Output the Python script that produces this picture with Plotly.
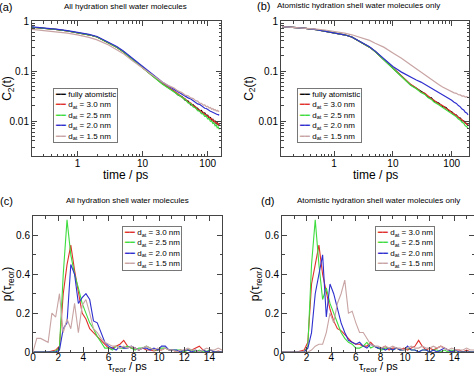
import plotly.graph_objects as go
import math

# ---------------- data ----------------
T_A = [0.2, 0.3, 0.5, 0.7, 1, 1.5, 2, 3, 4, 5, 7, 10, 14, 20, 25, 30, 35, 40, 45, 50,
       55, 60, 65, 70, 75, 80, 85, 90, 95, 100, 105, 110, 115, 120, 125, 130, 135, 140, 145, 150]
A_FULL = [0.75, 0.72, 0.67, 0.63, 0.59, 0.53, 0.48, 0.37, 0.30, 0.245, 0.17, 0.115, 0.080, 0.056, 0.046,
          0.040, 0.033, 0.031, 0.026, 0.025, 0.021, 0.021, 0.0185, 0.018, 0.0158, 0.0162, 0.0142, 0.0145,
          0.0128, 0.0130, 0.0115, 0.0118, 0.0104, 0.0108, 0.0096, 0.0099, 0.0088, 0.0092, 0.0083, 0.0086]
A_30 = [0.75, 0.72, 0.67, 0.63, 0.59, 0.53, 0.48, 0.37, 0.30, 0.245, 0.17, 0.116, 0.081, 0.057, 0.047,
        0.039, 0.035, 0.030, 0.028, 0.024, 0.023, 0.020, 0.0195, 0.017, 0.0168, 0.0152, 0.0150, 0.0136,
        0.0135, 0.0122, 0.0121, 0.0110, 0.0112, 0.0100, 0.0102, 0.0093, 0.0095, 0.0087, 0.0089, 0.0082]
A_25 = [0.75, 0.72, 0.67, 0.63, 0.59, 0.53, 0.48, 0.37, 0.30, 0.245, 0.17, 0.114, 0.079, 0.055, 0.045,
        0.038, 0.034, 0.029, 0.027, 0.023, 0.022, 0.019, 0.0182, 0.016, 0.0158, 0.0140, 0.0139, 0.0124,
        0.0125, 0.0110, 0.0111, 0.0099, 0.0100, 0.0089, 0.0091, 0.0080, 0.0083, 0.0073, 0.0076, 0.0068]
A_20 = [0.76, 0.73, 0.68, 0.64, 0.60, 0.54, 0.49, 0.38, 0.31, 0.255, 0.18, 0.121, 0.085, 0.060, 0.050,
        0.043, 0.039, 0.034, 0.032, 0.029, 0.0275, 0.025, 0.0238, 0.022, 0.0215, 0.020, 0.0193, 0.018,
        0.0178, 0.0168, 0.0165, 0.0157, 0.0153, 0.0148, 0.0146, 0.0140, 0.0139, 0.0135, 0.0134, 0.0130]
A_15 = [0.68, 0.65, 0.60, 0.57, 0.53, 0.47, 0.42, 0.33, 0.27, 0.225, 0.16, 0.115, 0.083, 0.060, 0.051,
        0.046, 0.040, 0.037, 0.033, 0.032, 0.029, 0.028, 0.0255, 0.025, 0.0228, 0.0226, 0.0208, 0.0210,
        0.0193, 0.0197, 0.0181, 0.0186, 0.0172, 0.0177, 0.0165, 0.0170, 0.0159, 0.0164, 0.0155, 0.0160]

T_B = [0.13, 0.2, 0.3, 0.5, 0.7, 1, 1.5, 2, 3, 4, 5, 7, 10, 14, 20, 25, 30, 35, 40, 45, 50,
       60, 70, 80, 90, 100, 110, 120, 130, 140, 150, 160, 170, 180, 190]
B_FULL = [0.77, 0.75, 0.72, 0.67, 0.63, 0.59, 0.53, 0.48, 0.37, 0.30, 0.245, 0.17, 0.115, 0.080, 0.053,
          0.045, 0.039, 0.035, 0.030, 0.029, 0.025, 0.0228, 0.0196, 0.0185, 0.0160, 0.0153, 0.0135,
          0.0131, 0.0117, 0.0115, 0.0102, 0.0101, 0.0091, 0.0089, 0.0082]
B_30 = [0.77, 0.75, 0.72, 0.67, 0.63, 0.59, 0.53, 0.48, 0.37, 0.30, 0.245, 0.17, 0.116, 0.081, 0.054,
        0.046, 0.038, 0.036, 0.031, 0.028, 0.026, 0.0220, 0.0203, 0.0178, 0.0166, 0.0148, 0.0140,
        0.0127, 0.0121, 0.0111, 0.0106, 0.0097, 0.0094, 0.0086, 0.0084]
B_25 = [0.77, 0.75, 0.72, 0.67, 0.63, 0.59, 0.53, 0.48, 0.37, 0.30, 0.245, 0.17, 0.114, 0.079, 0.052,
        0.044, 0.037, 0.034, 0.029, 0.027, 0.024, 0.0212, 0.0188, 0.0170, 0.0153, 0.0141, 0.0128,
        0.0121, 0.0109, 0.0104, 0.0094, 0.0090, 0.0080, 0.0078, 0.0070]
B_20 = [0.77, 0.75, 0.72, 0.67, 0.63, 0.59, 0.53, 0.48, 0.375, 0.305, 0.25, 0.18, 0.123, 0.095, 0.075,
        0.066, 0.060, 0.054, 0.050, 0.046, 0.043, 0.038, 0.034, 0.031, 0.028, 0.026, 0.0238, 0.0225,
        0.0203, 0.0192, 0.0173, 0.0166, 0.0150, 0.0145, 0.0133]
B_15 = [0.77, 0.75, 0.73, 0.69, 0.66, 0.62, 0.57, 0.53, 0.46, 0.41, 0.36, 0.30, 0.23, 0.18, 0.133,
        0.110, 0.095, 0.084, 0.075, 0.068, 0.062, 0.054, 0.048, 0.044, 0.041, 0.039, 0.0365, 0.0358,
        0.0335, 0.0333, 0.0316, 0.0318, 0.0302, 0.0306, 0.0295]

X_HIST = [0.0, 0.3, 0.6, 0.9, 1.2, 1.5, 1.8, 2.1, 2.4, 2.7, 3.0, 3.3, 3.6, 3.9, 4.2, 4.5, 4.8, 5.1,
          5.4, 5.7, 6.0, 6.3, 6.6, 6.9, 7.2, 7.5, 7.8, 8.1, 8.4, 8.7, 9.0, 9.3, 9.6, 9.9, 10.2, 10.5,
          10.8, 11.1, 11.4, 11.7, 12.0, 12.3, 12.6, 12.9, 13.2, 13.5, 13.8, 14.1, 14.4, 14.7, 15.0,
          15.3, 15.6]
C_30 = [0, 0, 0, 0, 0, 0.005, 0.01, 0.03, 0.30, 0.45, 0.55, 0.42, 0.30, 0.20, 0.17, 0.12, 0.10, 0.08,
        0.06, 0.04, 0.02, 0.02, 0.03, 0.04, 0.06, 0.03, 0.02, 0.02, 0.01, 0.02, 0.01, 0.01, 0.005, 0.01,
        0.01, 0.02, 0.01, 0.01, 0.0, 0.01, 0.005, 0.01, 0.01, 0.02, 0.03, 0.01, 0.0, 0.01, 0.0, 0.005,
        0.0, 0.0, 0.0]
C_25 = [0, 0, 0, 0, 0, 0, 0.005, 0.02, 0.40, 0.68, 0.50, 0.40, 0.33, 0.25, 0.20, 0.15, 0.12, 0.08,
        0.05, 0.02, 0.02, 0.01, 0.03, 0.02, 0.02, 0.03, 0.02, 0.01, 0.02, 0.02, 0.03, 0.02, 0.01, 0.01,
        0.02, 0.02, 0.01, 0.01, 0.01, 0.01, 0.0, 0.01, 0.01, 0.0, 0.01, 0.0, 0.005, 0.01, 0.0, 0.0,
        0.0, 0.0, 0.0]
C_20 = [0, 0, 0, 0, 0, 0, 0, 0.01, 0.12, 0.15, 0.45, 0.40, 0.25, 0.28, 0.30, 0.27, 0.16, 0.15, 0.10,
        0.05, 0.03, 0.02, 0.01, 0.03, 0.02, 0.02, 0.03, 0.02, 0.01, 0.02, 0.02, 0.01, 0.02, 0.01, 0.03,
        0.03, 0.01, 0.01, 0.01, 0.0, 0.01, 0.01, 0.0, 0.01, 0.0, 0.01, 0.0, 0.01, 0.0, 0.0, 0.0, 0.0, 0.0]
C_15 = [0.0, 0.07, 0.07, 0.06, 0.05, 0.20, 0.18, 0.30, 0.10, 0.17, 0.12, 0.25, 0.10, 0.24, 0.27, 0.20,
        0.12, 0.10, 0.07, 0.05, 0.04, 0.03, 0.03, 0.02, 0.03, 0.02, 0.03, 0.02, 0.01, 0.02, 0.03, 0.02,
        0.01, 0.02, 0.01, 0.02, 0.01, 0.01, 0.0, 0.01, 0.01, 0.02, 0.01, 0.01, 0.0, 0.01, 0.02, 0.01,
        0.01, 0.02, 0.01, 0.0, 0.0]
D_30 = [0, 0, 0, 0, 0, 0.005, 0.01, 0.05, 0.35, 0.45, 0.55, 0.40, 0.30, 0.22, 0.16, 0.12, 0.11, 0.09,
        0.07, 0.05, 0.04, 0.04, 0.03, 0.03, 0.05, 0.03, 0.02, 0.02, 0.03, 0.01, 0.02, 0.02, 0.01, 0.02,
        0.01, 0.02, 0.03, 0.06, 0.03, 0.01, 0.02, 0.01, 0.02, 0.03, 0.02, 0.01, 0.0, 0.01, 0.01, 0.0,
        0.01, 0.0, 0.0]
D_25 = [0, 0, 0, 0, 0, 0, 0.0, 0.03, 0.45, 0.68, 0.45, 0.27, 0.33, 0.25, 0.20, 0.15, 0.10, 0.07, 0.05,
        0.04, 0.02, 0.02, 0.03, 0.05, 0.02, 0.03, 0.02, 0.01, 0.02, 0.02, 0.01, 0.02, 0.01, 0.01, 0.02,
        0.01, 0.01, 0.0, 0.01, 0.01, 0.0, 0.01, 0.01, 0.0, 0.01, 0.0, 0.01, 0.0, 0.0, 0.0, 0.0, 0.0, 0.0]
D_20 = [0, 0, 0, 0, 0, 0, 0, 0.02, 0.10, 0.30, 0.40, 0.50, 0.18, 0.35, 0.30, 0.22, 0.15, 0.10, 0.06,
        0.05, 0.04, 0.05, 0.03, 0.02, 0.04, 0.03, 0.02, 0.02, 0.01, 0.02, 0.01, 0.02, 0.01, 0.01, 0.03,
        0.01, 0.01, 0.0, 0.01, 0.01, 0.0, 0.01, 0.0, 0.01, 0.02, 0.01, 0.0, 0.01, 0.0, 0.0, 0.0, 0.0, 0.0]
D_15 = [0, 0, 0, 0, 0, 0, 0, 0.0, 0.01, 0.03, 0.04, 0.04, 0.10, 0.20, 0.15, 0.25, 0.30, 0.37, 0.20,
        0.21, 0.15, 0.10, 0.10, 0.07, 0.04, 0.03, 0.03, 0.02, 0.03, 0.02, 0.03, 0.02, 0.02, 0.01, 0.02,
        0.03, 0.02, 0.02, 0.03, 0.02, 0.02, 0.03, 0.02, 0.03, 0.02, 0.01, 0.02, 0.01, 0.01, 0.01, 0.02,
        0.01, 0.01]

NAMES = ["fully atomistic", "d<sub>at</sub> = 3.0 nm", "d<sub>at</sub> = 2.5 nm",
         "d<sub>at</sub> = 2.0 nm", "d<sub>at</sub> = 1.5 nm"]
COLORS = ["#000000", "#e0312b", "#3fdc3f", "#2f2fcf", "#c9a4a4"]

TITLE_ALL = "All hydration shell water molecules"
TITLE_AT = "Atomistic hydration shell water molecules only"
XT_TIME = "time / ps"
XT_TAU = "τ<sub>reor</sub> / ps"

# ---------------- figure ----------------
FONT = "Liberation Sans, Arial, sans-serif"
fig = go.Figure()

panelA = [A_FULL, A_30, A_25, A_20, A_15]
panelB = [B_FULL, B_30, B_25, B_20, B_15]
for i, ys in enumerate(panelA):
    fig.add_trace(go.Scatter(x=T_A, y=ys, mode="lines", name=NAMES[i], showlegend=False,
                             line=dict(color=COLORS[i], width=1.2), xaxis="x", yaxis="y"))
for i, ys in enumerate(panelB):
    fig.add_trace(go.Scatter(x=T_B, y=ys, mode="lines", name=NAMES[i], showlegend=False,
                             line=dict(color=COLORS[i], width=1.2), xaxis="x2", yaxis="y2"))
for i, ys in enumerate([C_30, C_25, C_20, C_15]):
    fig.add_trace(go.Scatter(x=X_HIST, y=ys, mode="lines", name=NAMES[i + 1], showlegend=False,
                             line=dict(color=COLORS[i + 1], width=1.1), xaxis="x3", yaxis="y3"))
for i, ys in enumerate([D_30, D_25, D_20, D_15]):
    fig.add_trace(go.Scatter(x=X_HIST, y=ys, mode="lines", name=NAMES[i + 1], showlegend=False,
                             line=dict(color=COLORS[i + 1], width=1.1), xaxis="x4", yaxis="y4"))

AX = "#444444"
def base_axis(**kw):
    d = dict(showline=True, linecolor=AX, linewidth=1, mirror="allticks", ticks="inside",
             ticklen=5, tickcolor=AX, showgrid=False, zeroline=False, automargin=False,
             tickfont=dict(size=10, family=FONT, color="black"))
    d.update(kw)
    return d

def log_minor(lo, hi):
    vals = []
    for e in range(-3, 3):
        for k in range(2, 10):
            v = k * 10 ** e
            if lo <= v <= hi:
                vals.append(v)
    return vals

def minor(**kw):
    d = dict(ticks="inside", ticklen=2.5, tickcolor=AX, showgrid=False)
    d.update(kw)
    return d

xdomA = [32 / 474, 221 / 474]
xdomB = [281 / 474, 469 / 474]
ydomTop = [1 - 156 / 376, 1 - 21 / 376]
xdomC = [33 / 474, 222 / 474]
xdomD = [282 / 474, 474 / 474]
ydomBot = [1 - 352 / 376, 1 - 216 / 376]

title_font = dict(size=12, family=FONT, color="black")

fig.update_layout(
    width=474, height=376, margin=dict(l=0, r=0, t=0, b=0, autoexpand=False),
    paper_bgcolor="white", plot_bgcolor="white", showlegend=False,
    font=dict(family=FONT, color="black"),
    xaxis=base_axis(type="log", domain=xdomA, anchor="y", ticklabelstandoff=-2,
                    range=[math.log10(0.2), math.log10(160)],
                    tickvals=[1, 10, 100], ticktext=["1", "10", "100"],
                    minor=minor(tickvals=log_minor(0.2, 160))),
    yaxis=base_axis(type="log", domain=ydomTop, anchor="x", range=[-2.7, 0.0],
                    tickvals=[0.01, 0.1, 1], ticktext=["0.01", "0.1", "1"],
                    minor=minor(tickvals=log_minor(0.002, 1)),
                    title=dict(text="C<sub>2</sub>(t)", font=title_font, standoff=2)),
    xaxis2=base_axis(type="log", domain=xdomB, anchor="y2", ticklabelstandoff=-2,
                     range=[math.log10(0.125), math.log10(197)],
                     tickvals=[1, 10, 100], ticktext=["1", "10", "100"],
                     minor=minor(tickvals=log_minor(0.125, 197))),
    yaxis2=base_axis(type="log", domain=ydomTop, anchor="x2", range=[-2.7, 0.0],
                     tickvals=[0.01, 0.1, 1], ticktext=["0.01", "0.1", "1"],
                     minor=minor(tickvals=log_minor(0.002, 1)),
                     title=dict(text="C<sub>2</sub>(t)", font=title_font, standoff=2)),
    xaxis3=base_axis(domain=xdomC, anchor="y3", range=[0, 15], dtick=2, tick0=0,
                     ticklabelstandoff=-4, minor=minor(dtick=1)),
    yaxis3=base_axis(domain=ydomBot, anchor="x3", range=[0, 0.7],
                     tickvals=[0, 0.2, 0.4, 0.6], ticktext=["0", "0.2", "0.4", "0.6"],
                     minor=minor(dtick=0.1),
                     title=dict(text="p(τ<sub>reor</sub>)", font=title_font, standoff=2)),
    xaxis4=base_axis(domain=xdomD, anchor="y4", range=[0, 15.6], dtick=2, tick0=0,
                     ticklabelstandoff=-4, minor=minor(dtick=1)),
    yaxis4=base_axis(domain=ydomBot, anchor="x4", range=[0, 0.7],
                     tickvals=[0, 0.2, 0.4, 0.6], ticktext=["0", "0.2", "0.4", "0.6"],
                     minor=minor(dtick=0.1),
                     title=dict(text="p(τ<sub>reor</sub>)", font=title_font, standoff=2)),
)

ann = []
def label(text, xpx, ypx, size, anchor="center", yanchor="middle"):
    ann.append(dict(text=text, x=xpx / 474, y=1 - ypx / 376, xref="paper", yref="paper",
                    xanchor=anchor, yanchor=yanchor, showarrow=False,
                    font=dict(size=size, family=FONT, color="black")))

def legend_box(names, colors, xpx, ypx):
    lines = ["<span style='color:%s'>━━</span> %s" % (c, n) for n, c in zip(names, colors)]
    ann.append(dict(text="<br>".join(lines), x=xpx / 474, y=1 - ypx / 376,
                    xref="paper", yref="paper", xanchor="left", yanchor="top",
                    align="left", showarrow=False, bgcolor="white",
                    bordercolor="#777777", borderwidth=1, borderpad=1,
                    font=dict(size=8, family=FONT, color="black")))

label("(a)", -3, 7, 11, "left")
label(TITLE_ALL, 126, 7, 8)
label("(b)", 255, 6, 11, "left")
label(TITLE_AT, 358, 6, 8)
label("(c)", -2, 201, 11, "left")
label(TITLE_ALL, 127, 201, 8)
label("(d)", 259, 201, 11, "left")
label(TITLE_AT, 378, 201, 8)

# x-axis titles
label(XT_TIME, 126, 175, 12)
label(XT_TIME, 375, 175, 12)
label(XT_TAU, 128, 376, 11, yanchor="bottom")
label(XT_TAU, 378, 376, 11, yanchor="bottom")

legend_box(NAMES, COLORS, 53, 88)
legend_box(NAMES, COLORS, 297, 88)
legend_box(NAMES[1:], COLORS[1:], 122, 226)
legend_box(NAMES[1:], COLORS[1:], 375, 226)
fig.update_layout(annotations=ann)

fig.write_html("out.html", config={"displayModeBar": False},
               post_script="document.body.style.margin='0px';")
